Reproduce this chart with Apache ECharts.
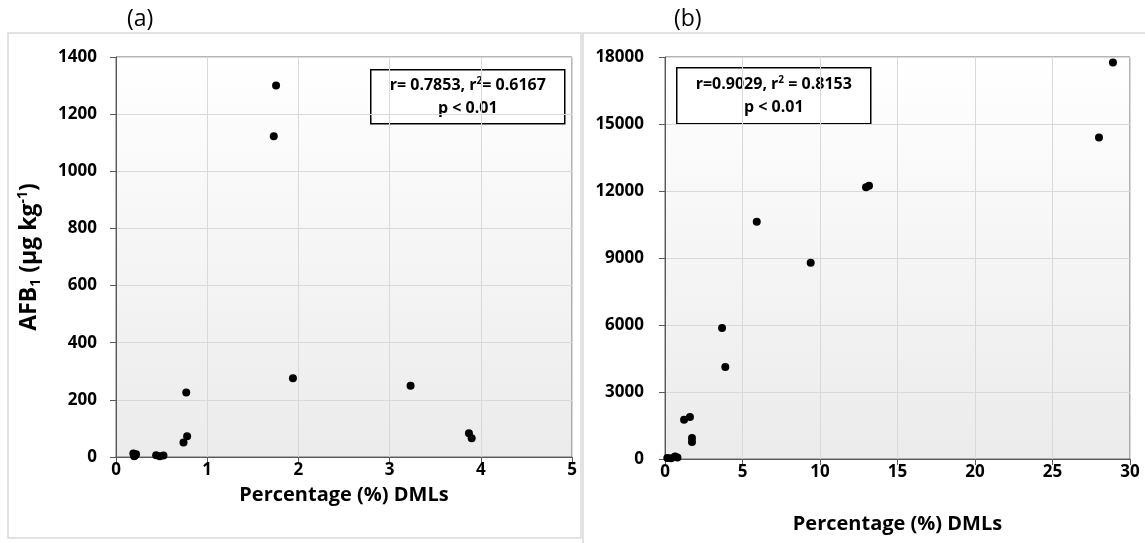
<!DOCTYPE html>
<html>
<head>
<meta charset="utf-8">
<script src="https://cdn.jsdelivr.net/npm/echarts@6/dist/echarts.min.js"></script>
<style>
  html, body { margin: 0; padding: 0; background: #fff; }
  #chart { width: 1145px; height: 543px; }
</style>
</head>
<body>
<div id="chart"></div>
<script>
// panel (a): DMLs (%) vs AFB1
const dmlA = [0.19, 0.21, 0.22, 0.20, 0.44, 0.48, 0.52, 0.74, 0.78, 0.77, 1.73, 1.755, 1.94, 3.23, 3.87, 3.90];
const afbA = [12, 6, 10, 3, 6, 3, 5, 51, 73, 226, 1123, 1300, 276, 249, 83, 66];
// panel (b)
const dmlB = [0.15, 0.40, 0.65, 0.80, 1.23, 1.61, 1.74, 1.74, 3.68, 3.89, 5.92, 9.40, 12.97, 13.16, 28.0, 28.9];
const afbB = [40, 30, 110, 70, 1760, 1880, 940, 760, 5866, 4120, 10627, 8790, 12163, 12240, 14390, 17750];

const ticksA = { xMax: 5, xStep: 1, yMax: 1400, yStep: 200 };
const ticksB = { xMax: 30, xStep: 5, yMax: 18000, yStep: 3000 };

const statsA = 'r= 0.7853, r{sup|2}= 0.6167\np < 0.01';
const statsB = 'r=0.9029, r{sup|2} = 0.8153\np < 0.01';

const FONT = '"Open Sans", "Noto Sans", sans-serif';
const plotBg = new echarts.graphic.LinearGradient(0, 0, 0, 1, [
  { offset: 0, color: '#ffffff' },
  { offset: 1, color: '#ebebeb' }
]);

function grid(left, top, width, height) {
  return {
    left: left, top: top, width: width, height: height,
    show: true, backgroundColor: plotBg,
    borderColor: '#6b6b6b', borderWidth: 1
  };
}

function xAxis(idx, t, nameGap) {
  return {
    type: 'value', gridIndex: idx, min: 0, max: t.xMax, interval: t.xStep,
    name: 'Percentage (%) DMLs', nameLocation: 'middle', nameGap: nameGap,
    nameTextStyle: { fontFamily: FONT, fontWeight: 'bold', fontSize: 20, color: '#000' },
    axisLine: { onZero: false, lineStyle: { color: '#595959', width: 1 } },
    axisTick: { show: true, inside: false, length: 6, lineStyle: { color: '#595959' } },
    axisLabel: { margin: 5, fontFamily: FONT, fontWeight: 'bold', fontSize: 17, color: '#000',
      formatter: v => String(v) },
    splitLine: { show: true, lineStyle: { color: '#d9d9d9' } }
  };
}

function yAxis(idx, t, margin, withName) {
  const ax = {
    type: 'value', gridIndex: idx, min: 0, max: t.yMax, interval: t.yStep,
    axisLine: { show: true, lineStyle: { color: '#595959', width: 1 } },
    axisTick: { show: true, inside: false, length: 6, lineStyle: { color: '#595959' } },
    axisLabel: { margin: margin, fontFamily: FONT, fontWeight: 'bold', fontSize: 17, color: '#000',
      formatter: v => String(v) },
    splitLine: { show: true, lineStyle: { color: '#d9d9d9' } }
  };
  if (withName) {
    ax.name = 'AFB{sub|1} (µg kg{sup|-1})';
    ax.nameLocation = 'middle';
    ax.nameRotate = 90;
    ax.nameGap = 73;
    ax.nameTextStyle = {
      fontFamily: FONT, fontWeight: 'bold', fontSize: 23, color: '#000',
      rich: {
        sub: { fontFamily: FONT, fontWeight: 'bold', fontSize: 14, color: '#000', padding: [13, 0, 0, 0] },
        sup: { fontFamily: FONT, fontWeight: 'bold', fontSize: 14, color: '#000', padding: [0, 0, 13, 0] }
      }
    };
  }
  return ax;
}

function statsBox(x, y, w, h, text) {
  return {
    type: 'group', left: x, top: y, z: 10,
    children: [
      { type: 'rect', shape: { x: 0, y: 0, width: w, height: h },
        style: { fill: '#fff', stroke: '#000', lineWidth: 1.5 } },
      { type: 'text', x: w / 2, y: h / 2,
        style: {
          text: text, align: 'center', verticalAlign: 'middle',
          font: 'bold 16px ' + FONT, fill: '#000', lineHeight: 23,
          rich: { sup: { fontFamily: FONT, fontWeight: 'bold', fontSize: 10, fill: '#000', padding: [0, 0, 9, 0] } }
        } }
    ]
  };
}

const chart = echarts.init(document.getElementById('chart'));
chart.setOption({
  animation: false,
  backgroundColor: '#fff',
  title: [
    { text: '(a)', left: 122, top: 3, textStyle: { fontFamily: FONT, fontWeight: 'normal', fontSize: 23, color: '#000' } },
    { text: '(b)', left: 669, top: 3, textStyle: { fontFamily: FONT, fontWeight: 'normal', fontSize: 23, color: '#000' } }
  ],
  grid: [grid(116, 57, 456, 400), grid(665, 57, 465, 402)],
  xAxis: [xAxis(0, ticksA, 28), xAxis(1, ticksB, 55)],
  yAxis: [yAxis(0, ticksA, 19, true), yAxis(1, ticksB, 21, false)],
  graphic: [
    { type: 'rect', z: -10, shape: { x: 8, y: 33, width: 573, height: 505 },
      style: { fill: null, stroke: '#d9d9d9', lineWidth: 1.5 } },
    { type: 'rect', z: -10, shape: { x: 583, y: 33, width: 600, height: 560 },
      style: { fill: null, stroke: '#d9d9d9', lineWidth: 1.5 } },
    statsBox(370, 69, 194, 54, statsA),
    statsBox(676, 67, 194, 56, statsB)
  ],
  series: [
    { type: 'scatter', xAxisIndex: 0, yAxisIndex: 0, symbolSize: 8,
      itemStyle: { color: '#000', opacity: 1 }, data: dmlA.map((x, i) => [x, afbA[i]]) },
    { type: 'scatter', xAxisIndex: 1, yAxisIndex: 1, symbolSize: 8,
      itemStyle: { color: '#000', opacity: 1 }, data: dmlB.map((x, i) => [x, afbB[i]]) }
  ]
});
</script>
</body>
</html>
